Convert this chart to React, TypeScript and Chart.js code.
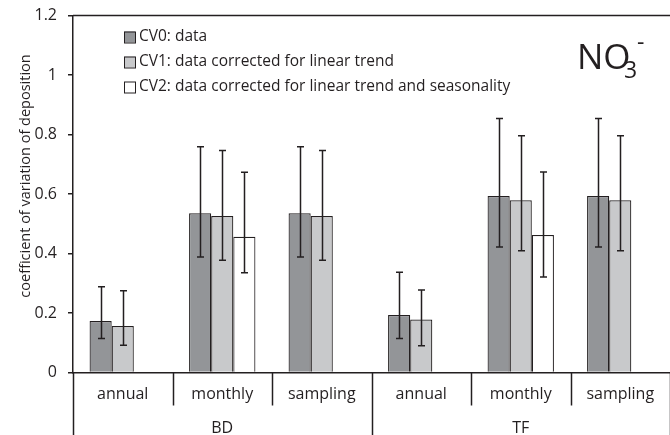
import React, { useEffect, useRef } from 'react';
import { Chart, registerables } from 'chart.js';

Chart.register(...registerables);

const categories = ['annual', 'monthly', 'sampling', 'annual', 'monthly', 'sampling'];
const groups = ['BD', 'TF'];
const seriesNames = [
  'CV0: data',
  'CV1: data corrected for linear trend',
  'CV2: data corrected for linear trend and seasonality',
];
const cv0 = [0.173, 0.535, 0.535, 0.193, 0.593, 0.593];
const cv0Low = [0.114, 0.388, 0.388, 0.114, 0.422, 0.422];
const cv0High = [0.288, 0.759, 0.759, 0.337, 0.854, 0.854];
const cv1 = [0.156, 0.526, 0.526, 0.178, 0.579, 0.579];
const cv1Low = [0.092, 0.377, 0.377, 0.09, 0.409, 0.409];
const cv1High = [0.275, 0.746, 0.746, 0.277, 0.796, 0.796];
const cv2 = [null, 0.456, null, null, 0.462, null];
const cv2Low = [null, 0.335, null, null, 0.321, null];
const cv2High = [null, 0.673, null, null, 0.674, null];
const yMin = 0;
const yMax = 1.2;
const yStep = 0.2;
const yTitle = 'coefficient of variation of deposition';

const INK = '#231f20';
const FONT = "'Open Sans', sans-serif";
const colors = ['#939598', '#c8c9cb', '#ffffff'];
const lows = [cv0Low, cv1Low, cv2Low];
const highs = [cv0High, cv1High, cv2High];

const decorPlugin = {
  id: 'decor',
  afterDatasetsDraw(chart: any) {
    const ctx = chart.ctx;
    const y = chart.scales.y;
    ctx.save();
    ctx.strokeStyle = INK;
    ctx.lineWidth = 1.5;
    for (let d = 0; d < 3; d++) {
      const meta = chart.getDatasetMeta(d);
      meta.data.forEach((el: any, i: number) => {
        const lo = lows[d][i];
        const hi = highs[d][i];
        if (lo == null || hi == null) return;
        const x = Math.round(el.x) + 0.5;
        const yl = y.getPixelForValue(lo);
        const yh = y.getPixelForValue(hi);
        ctx.beginPath();
        ctx.moveTo(x, yl);
        ctx.lineTo(x, yh);
        ctx.moveTo(x - 3.5, yl);
        ctx.lineTo(x + 3.5, yl);
        ctx.moveTo(x - 3.5, yh);
        ctx.lineTo(x + 3.5, yh);
        ctx.stroke();
      });
    }
    ctx.restore();
  },
  afterDraw(chart: any) {
    const ctx = chart.ctx;
    const x = chart.scales.x;
    const ca = chart.chartArea;
    const H = chart.height;
    ctx.save();
    ctx.strokeStyle = INK;
    ctx.lineWidth = 1.5;
    ctx.beginPath();
    ctx.moveTo(ca.left, ca.top);
    ctx.lineTo(ca.right, ca.top);
    ctx.stroke();
    const n = categories.length;
    const half = (x.getPixelForValue(1) - x.getPixelForValue(0)) / 2;
    for (let i = 0; i <= n; i++) {
      const px = i < n ? x.getPixelForValue(i) - half : x.getPixelForValue(n - 1) + half;
      const isGroup = i % 3 === 0;
      const bottom = isGroup ? H : ca.bottom + 33;
      ctx.beginPath();
      ctx.moveTo(Math.round(px) + 0.5, ca.bottom);
      ctx.lineTo(Math.round(px) + 0.5, bottom);
      ctx.stroke();
    }
    ctx.fillStyle = INK;
    ctx.font = `16px ${FONT}`;
    ctx.textAlign = 'center';
    ctx.textBaseline = 'middle';
    groups.forEach((g, gi) => {
      const cx = (x.getPixelForValue(gi * 3) + x.getPixelForValue(gi * 3 + 2)) / 2;
      ctx.fillText(g, cx, ca.bottom + 56);
    });
    ctx.save();
    ctx.translate(26, 176);
    ctx.rotate(-Math.PI / 2);
    ctx.font = `14.5px ${FONT}`;
    ctx.fillText(yTitle, 0, 0);
    ctx.restore();
    ctx.textAlign = 'left';
    ctx.font = `15.5px ${FONT}`;
    seriesNames.forEach((name, i) => {
      const cy = 37 + i * 25;
      ctx.fillStyle = colors[i];
      ctx.fillRect(124, cy - 5.5, 11, 11);
      ctx.lineWidth = 1;
      ctx.strokeStyle = INK;
      ctx.strokeRect(124.5, cy - 5, 11, 11);
      ctx.fillStyle = INK;
      ctx.fillText(name, 139, cy);
    });
    ctx.textBaseline = 'alphabetic';
    ctx.font = `35px ${FONT}`;
    ctx.fillText('NO', 577, 69);
    ctx.font = `23px ${FONT}`;
    ctx.fillText('3', 624, 78);
    ctx.fillText('-', 637, 50);
    ctx.restore();
  },
};

export default function App() {
  const ref = useRef<HTMLCanvasElement>(null);
  useEffect(() => {
    document.body.style.margin = '0';
    const canvas = ref.current!;
    const chart = new Chart(canvas, {
      type: 'bar',
      data: {
        labels: categories,
        datasets: [cv0, cv1, cv2].map((vals, i) => ({
          label: seriesNames[i],
          data: vals as any,
          backgroundColor: colors[i],
          borderColor: INK,
          borderWidth: 1.2,
          categoryPercentage: 0.667,
          barPercentage: 1.0,
        })),
      },
      options: {
        responsive: false,
        animation: false,
        devicePixelRatio: 1,
        layout: { padding: { top: 15.5, right: 0, left: 0, bottom: 0 } },
        plugins: { legend: { display: false }, tooltip: { enabled: false } },
        scales: {
          x: {
            type: 'category',
            offset: true,
            grid: { display: false, drawTicks: false },
            border: { display: true, color: INK, width: 1.5 },
            ticks: { color: INK, font: { family: FONT, size: 16 }, padding: 12, maxRotation: 0, autoSkip: false },
            afterFit(scale: any) {
              scale.height = 62.5;
              scale.paddingLeft = 0;
              scale.paddingRight = 0;
            },
          },
          y: {
            min: yMin,
            max: yMax,
            grid: { display: true, drawOnChartArea: false, drawTicks: true, tickLength: 5, color: INK, lineWidth: 1.5 },
            border: { display: true, color: INK, width: 1.5 },
            ticks: {
              stepSize: yStep,
              color: INK,
              padding: 11,
              font: { family: FONT, size: 16 },
              callback: (v: any) => String(+Number(v).toFixed(1)),
            },
            afterFit(scale: any) {
              scale.width = 73;
              scale.paddingTop = 0;
              scale.paddingBottom = 0;
            },
          },
        },
      },
      plugins: [decorPlugin],
    });
    return () => chart.destroy();
  }, []);
  return (
    <div style={{ width: 670, height: 435 }}>
      <canvas ref={ref} width={670} height={435} />
    </div>
  );
}
